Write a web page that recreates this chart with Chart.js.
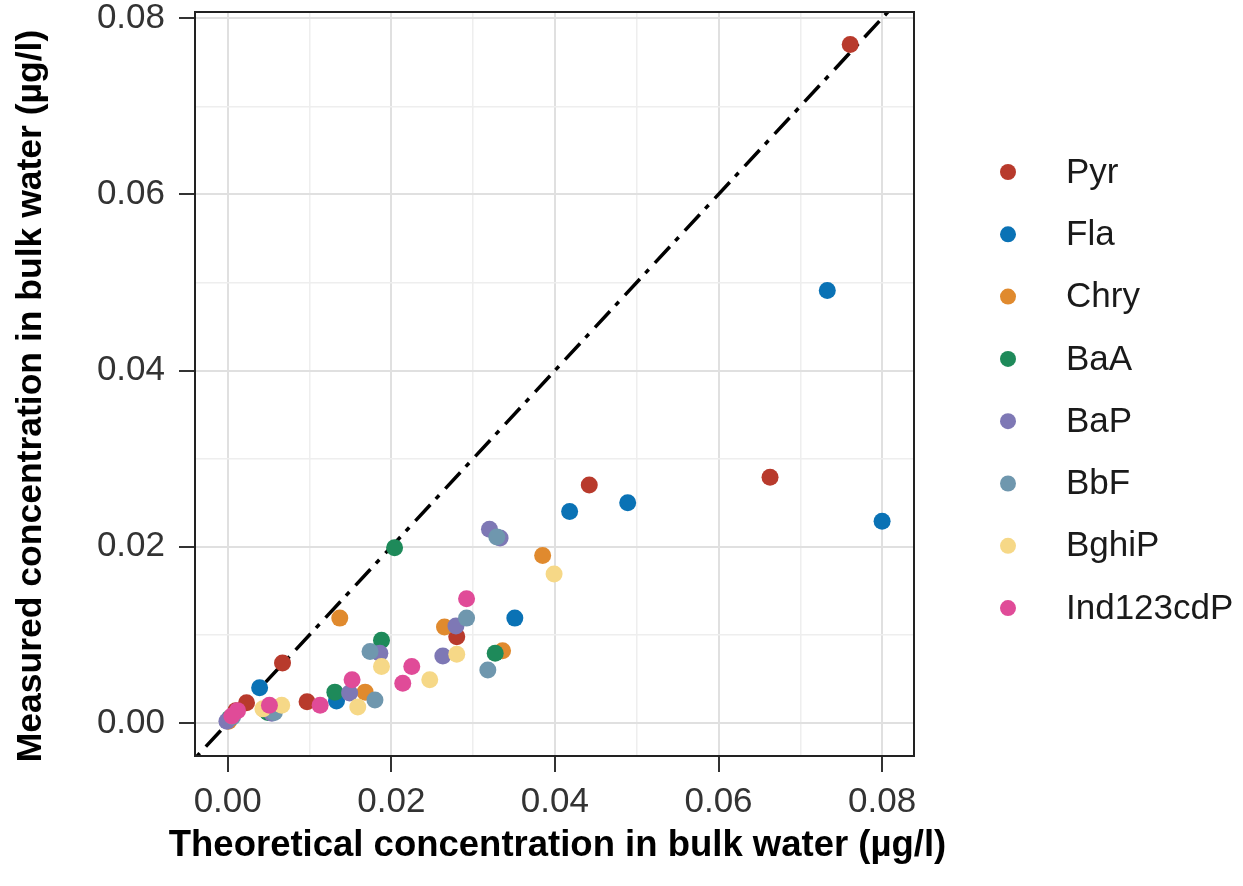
<!DOCTYPE html>
<html>
<head>
<meta charset="utf-8">
<script src="https://cdn.jsdelivr.net/npm/chart.js@4.4.1/dist/chart.umd.min.js"></script>
<style>
  html, body { margin: 0; padding: 0; background: #fff; }
  canvas { display: block; }
</style>
</head>
<body>
<canvas id="concChart" width="1243" height="886"></canvas>
<script>
// Compounds and their colours
const categories = ['Pyr', 'Fla', 'Chry', 'BaA', 'BaP', 'BbF', 'BghiP', 'Ind123cdP'];
const colors = ['#B83A2C', '#0A72B5', '#E08A2E', '#1E8A5A', '#7E78B5', '#6F97AE', '#F6D887', '#E04B98'];

// [theoretical, measured] in µg/l
const pyr = [[0.0761, 0.0770], [0.0663, 0.0279], [0.0442, 0.0270], [0.0280, 0.0098], [0.0067, 0.0068], [0.0097, 0.0024], [0.0023, 0.0023], [0.0010, 0.0014]];
const fla = [[0.0733, 0.0491], [0.0800, 0.0229], [0.0489, 0.0250], [0.0418, 0.0240], [0.0351, 0.0119], [0.0039, 0.0040], [0.0133, 0.0025], [0.0004, 0.0006]];
const chry = [[0.0385, 0.0190], [0.0137, 0.0119], [0.0265, 0.0109], [0.0336, 0.0082], [0.0168, 0.0035], [0.0045, 0.0015], [0.0001, 0.0002]];
const baa = [[0.0204, 0.0199], [0.0188, 0.0094], [0.0131, 0.0035], [0.0327, 0.0079], [0.0049, 0.0012], [0.0002, 0.0005]];
const bap = [[0.0320, 0.0220], [0.0333, 0.0210], [0.0279, 0.0110], [0.0263, 0.0076], [0.0186, 0.0079], [0.0149, 0.0034], [0.0054, 0.0011], [-0.0001, 0.0002]];
const bbf = [[0.0329, 0.0211], [0.0292, 0.0119], [0.0318, 0.0060], [0.0174, 0.0081], [0.0180, 0.0026], [0.0057, 0.0012], [0.0006, 0.0007]];
const bghip = [[0.0399, 0.0169], [0.0280, 0.0078], [0.0247, 0.0049], [0.0188, 0.0064], [0.0159, 0.0018], [0.0066, 0.0020], [0.0043, 0.0016]];
const ind123cdp = [[0.0292, 0.0141], [0.0225, 0.0064], [0.0214, 0.0045], [0.0152, 0.0049], [0.0113, 0.0020], [0.0051, 0.0020], [0.0012, 0.0014], [0.0005, 0.0008]];
const seriesValues = [pyr, fla, chry, baa, bap, bbf, bghip, ind123cdp];

// 1:1 reference line ends
const identityLine = [-0.01, 0.1];

// Axis ticks
const tickValues = [0, 0.02, 0.04, 0.06, 0.08];
const tickLabels = ['0.00', '0.02', '0.04', '0.06', '0.08'];
const minorValues = [0.01, 0.03, 0.05, 0.07];

const xTitle = 'Theoretical concentration in bulk water (µg/l)';
const yTitle = 'Measured concentration in bulk water (µg/l)';

const isMajor = v => tickValues.some(t => Math.abs(t - v) < 1e-9);
const labelFor = v => {
    const i = tickValues.findIndex(t => Math.abs(t - v) < 1e-9);
    return i >= 0 ? tickLabels[i] : '';
};

const datasets = categories.map((name, i) => ({
    label: name,
    data: seriesValues[i].map(p => ({ x: p[0], y: p[1] })),
    backgroundColor: colors[i],
    borderWidth: 0,
    pointRadius: 8.5,
    pointHoverRadius: 8.5,
    order: categories.length - i
}));

datasets.push({
    label: 'identity',
    data: identityLine.map(v => ({ x: v, y: v })),
    showLine: true,
    borderColor: '#000',
    borderWidth: 3.5,
    borderDash: [22, 8, 5, 9],
    pointRadius: 0,
    clip: 0,
    order: 100
});

function axis(min, max) {
    return {
        type: 'linear',
        min: min,
        max: max,
        afterBuildTicks: scale => {
            scale.ticks = tickValues.concat(minorValues).sort((a, b) => a - b).map(v => ({ value: v }));
        },
        ticks: {
            autoSkip: false,
            maxRotation: 0,
            color: '#333',
            font: { family: 'Liberation Sans, Arial, sans-serif', size: 35 },
            callback: v => labelFor(v)
        },
        grid: {
            color: c => isMajor(c.tick.value) ? '#E0E0E0' : '#EEEEEE',
            lineWidth: c => isMajor(c.tick.value) ? 2 : 1.5,
            tickColor: c => isMajor(c.tick.value) ? '#333' : 'rgba(0,0,0,0)',
            tickWidth: 2,
            tickLength: 16
        },
        border: { display: false }
    };
}

const xAxis = axis(-0.004, 0.0839);
xAxis.ticks.padding = 9;
xAxis.afterFit = s => { s.height = 130; s.paddingLeft = 0; s.paddingRight = 0; };

const yAxis = axis(-0.00375, 0.0807);
yAxis.ticks.padding = 14;
yAxis.afterFit = s => { s.width = 195; s.paddingTop = 0; s.paddingBottom = 0; };

// panel border around the plotting area
const panelBorder = {
    id: 'panelBorder',
    afterDatasetsDraw(chart) {
        const a = chart.chartArea;
        const ctx = chart.ctx;
        ctx.save();
        ctx.strokeStyle = '#222';
        ctx.lineWidth = 2;
        ctx.strokeRect(a.left, a.top, a.right - a.left, a.bottom - a.top);
        ctx.restore();
    }
};

// axis titles drawn by hand so they are not squeezed to the panel size
const axisTitles = {
    id: 'axisTitles',
    afterDraw(chart) {
        const a = chart.chartArea;
        const ctx = chart.ctx;
        ctx.save();
        ctx.fillStyle = '#000';
        ctx.textAlign = 'center';
        ctx.textBaseline = 'middle';
        ctx.font = 'bold 36.5px Liberation Sans, Arial, sans-serif';
        ctx.fillText(xTitle, (a.left + a.right) / 2 + 3, 846);
        ctx.translate(31, 396);
        ctx.rotate(-Math.PI / 2);
        ctx.font = 'bold 35.5px Liberation Sans, Arial, sans-serif';
        ctx.fillText(yTitle, 0, 0);
        ctx.restore();
    }
};

// legend to the right, ggplot style
const sideLegend = {
    id: 'sideLegend',
    afterDraw(chart) {
        const ctx = chart.ctx;
        ctx.save();
        ctx.font = '35px Liberation Sans, Arial, sans-serif';
        ctx.textBaseline = 'middle';
        ctx.textAlign = 'left';
        categories.forEach((name, i) => {
            const y = 172 + i * 62.3;
            ctx.fillStyle = colors[i];
            ctx.beginPath();
            ctx.arc(1008, y, 8, 0, Math.PI * 2);
            ctx.fill();
            ctx.fillStyle = '#1a1a1a';
            ctx.fillText(name, 1066, y + 1);
        });
        ctx.restore();
    }
};

new Chart(document.getElementById('concChart').getContext('2d'), {
    type: 'scatter',
    data: { datasets: datasets },
    options: {
        responsive: false,
        animation: false,
        layout: { padding: { left: 0, top: 12, right: 329, bottom: 0 } },
        scales: { x: xAxis, y: yAxis },
        plugins: {
            legend: { display: false },
            tooltip: { enabled: false }
        }
    },
    plugins: [panelBorder, axisTitles, sideLegend]
});
</script>
</body>
</html>
